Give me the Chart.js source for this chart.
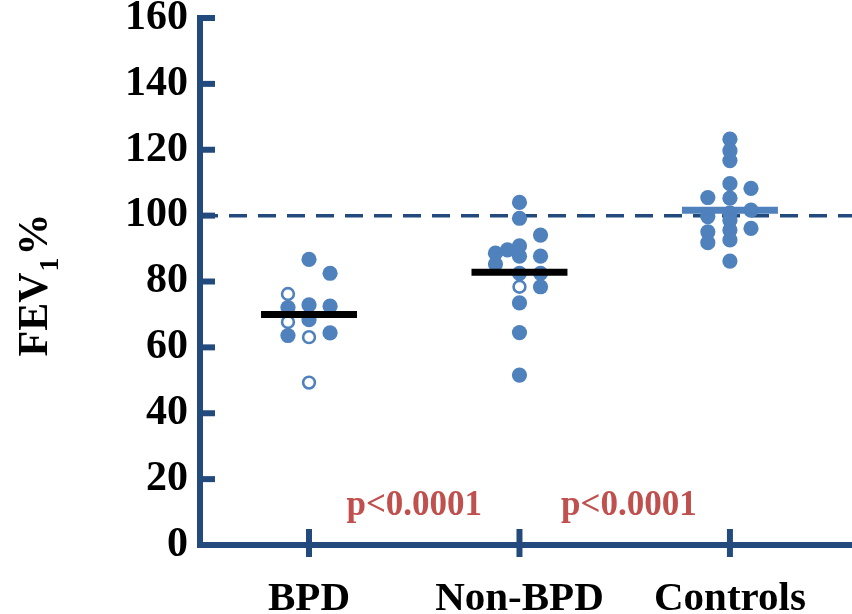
<!DOCTYPE html>
<html>
<head>
<meta charset="utf-8">
<script src="https://cdn.jsdelivr.net/npm/chart.js@4/dist/chart.umd.min.js"></script>
<style>
html, body { margin: 0; padding: 0; background: #fff; }
#wrap { width: 852px; height: 614px; }
</style>
</head>
<body>
<div id="wrap"><canvas id="fevChart" width="852" height="614"></canvas></div>
<script>
var groupNames = ['BPD', 'Non-BPD', 'Controls'];
var yTicks = [0, 20, 40, 60, 80, 100, 120, 140, 160];

// each point: [group position (with jitter), FEV1 %]
var bpdFilled = [[1, 86.7], [1.1, 82.5], [0.9, 72.1], [1, 72.9], [1.1, 72.5], [1, 68.4], [0.9, 63.6], [1.1, 64.4]];
var bpdOpen = [[0.9, 76.2], [0.9, 67.7], [1, 63.1], [1, 49.3]];
var nonBpdFilled = [[2, 104], [2, 99.2], [2.1, 94.1], [2, 90.8], [1.943, 89.6], [1.886, 88.6], [2, 87.7], [2.1, 87.7],
    [1.886, 85.3], [2, 82.5], [2.1, 82.5], [2.1, 78.4], [2, 73.5], [2, 64.5], [2, 51.6]];
var nonBpdOpen = [[2, 78.4]];
var controlsFilled = [[3, 123.2], [3, 119.7], [3, 116.7], [3, 109.7], [3.1, 108.3], [2.895, 105.5], [3, 105.3],
    [2.895, 99.7], [3, 100.8], [3, 98.5], [3.1, 101.7], [3.1, 96.1], [2.895, 95.1], [2.895, 91.8], [3, 95.6], [3, 92.6], [3, 86.2]];

var medians = [70, 82.8, 101.6];
var medianColors = ['#000000', '#000000', '#4f81bd'];
var referenceValue = 100;
var pLabels = ['p<0.0001', 'p<0.0001'];
var pLabelPos = [[1.5, 12], [2.52, 12]];

var axisColor = '#234a7d';
var dotColor = '#4f81bd';
var serif = '"Liberation Serif", "Times New Roman", serif';

function toXY(list) {
    return list.map(function (p) { return { x: p[0], y: p[1] }; });
}

var datasets = [];

datasets.push({
    type: 'line',
    label: 'reference',
    data: [{ x: 0.482, y: referenceValue }, { x: 3.58, y: referenceValue }],
    borderColor: axisColor,
    borderWidth: 3.5,
    borderDash: [18, 11],
    pointRadius: 0,
    showLine: true,
    order: 4
});

[bpdFilled, nonBpdFilled, controlsFilled].forEach(function (list) {
    datasets.push({
        type: 'scatter',
        data: toXY(list),
        backgroundColor: dotColor,
        borderWidth: 0,
        pointRadius: 7.6,
        order: 3
    });
});

[bpdOpen, nonBpdOpen].forEach(function (list) {
    datasets.push({
        type: 'scatter',
        data: toXY(list),
        backgroundColor: '#ffffff',
        borderColor: dotColor,
        borderWidth: 2.6,
        pointRadius: 5.9,
        order: 2
    });
});

medians.forEach(function (m, i) {
    datasets.push({
        type: 'line',
        data: [{ x: i + 1 - 0.228, y: m }, { x: i + 1 + 0.228, y: m }],
        borderColor: medianColors[i],
        borderWidth: 7,
        borderCapStyle: 'butt',
        pointRadius: 0,
        showLine: true,
        order: 1
    });
});

// axis lines, inner tick marks, y title and p-values
var decorations = {
    id: 'decorations',
    afterDraw: function (chart) {
        var ctx = chart.ctx;
        var xs = chart.scales.x;
        var ys = chart.scales.y;
        var left = xs.left;
        var bottom = ys.bottom;
        ctx.save();
        ctx.strokeStyle = axisColor;
        ctx.lineWidth = 6;
        ctx.lineCap = 'butt';

        ctx.beginPath();
        ctx.moveTo(left, ys.getPixelForValue(160) - 3);
        ctx.lineTo(left, bottom);
        ctx.lineTo(chart.width, bottom);
        ctx.stroke();

        yTicks.forEach(function (v) {
            if (v === 0) return;
            var py = ys.getPixelForValue(v);
            ctx.beginPath();
            ctx.moveTo(left, py);
            ctx.lineTo(left + 15, py);
            ctx.stroke();
        });

        groupNames.forEach(function (g, i) {
            var px = xs.getPixelForValue(i + 1);
            ctx.beginPath();
            ctx.moveTo(px, bottom - 16);
            ctx.lineTo(px, bottom + 12);
            ctx.stroke();
        });

        ctx.fillStyle = '#c0504d';
        ctx.font = 'bold 35px ' + serif;
        ctx.textAlign = 'center';
        ctx.textBaseline = 'middle';
        pLabels.forEach(function (t, i) {
            ctx.fillText(t, xs.getPixelForValue(pLabelPos[i][0]), ys.getPixelForValue(pLabelPos[i][1]));
        });

        // rotated y title: FEV + subscript 1 + %
        ctx.fillStyle = '#000';
        ctx.translate(47, 285);
        ctx.rotate(-Math.PI / 2);
        ctx.textAlign = 'left';
        ctx.textBaseline = 'alphabetic';
        var big = 'bold 42px ' + serif;
        var small = 'bold 28px ' + serif;
        ctx.font = big;
        var w1 = ctx.measureText('FEV').width;
        var w3 = ctx.measureText('%').width;
        ctx.font = small;
        var w2 = ctx.measureText('1').width;
        var start = -(w1 + w2 + w3 + 3) / 2;
        ctx.font = big;
        ctx.fillText('FEV', start, 0);
        ctx.font = small;
        ctx.fillText('1', start + w1 + 1, 11);
        ctx.font = big;
        ctx.fillText('%', start + w1 + w2 + 3, 0);
        ctx.restore();
    }
};

var ctx = document.getElementById('fevChart').getContext('2d');
var fevChart = new Chart(ctx, {
    type: 'scatter',
    data: { datasets: datasets },
    options: {
        responsive: false,
        animation: false,
        layout: { autoPadding: false, padding: { top: 18, right: 0, left: 0, bottom: 0 } },
        scales: {
            x: {
                type: 'linear',
                min: 0.482,
                max: 3.58,
                grid: { display: false, drawTicks: false },
                border: { display: false },
                afterBuildTicks: function (scale) {
                    scale.ticks = groupNames.map(function (g, i) { return { value: i + 1 }; });
                },
                ticks: {
                    padding: 30,
                    color: '#000',
                    font: { family: serif, size: 41, weight: 'bold' },
                    callback: function (v) { return groupNames[v - 1] || ''; }
                },
                afterFit: function (scale) {
                    scale.height = 69;
                    scale.paddingLeft = 0;
                    scale.paddingRight = 0;
                }
            },
            y: {
                type: 'linear',
                min: 0,
                max: 160,
                grid: { display: false, drawTicks: false },
                border: { display: false },
                afterBuildTicks: function (scale) {
                    scale.ticks = yTicks.map(function (v) { return { value: v }; });
                },
                ticks: {
                    padding: 12,
                    color: '#000',
                    font: { family: serif, size: 42, weight: 'bold' }
                },
                afterFit: function (scale) {
                    scale.width = 200;
                    scale.paddingTop = 0;
                    scale.paddingBottom = 0;
                }
            }
        },
        plugins: {
            legend: { display: false },
            tooltip: { enabled: false }
        }
    },
    plugins: [decorations]
});
</script>
</body>
</html>
